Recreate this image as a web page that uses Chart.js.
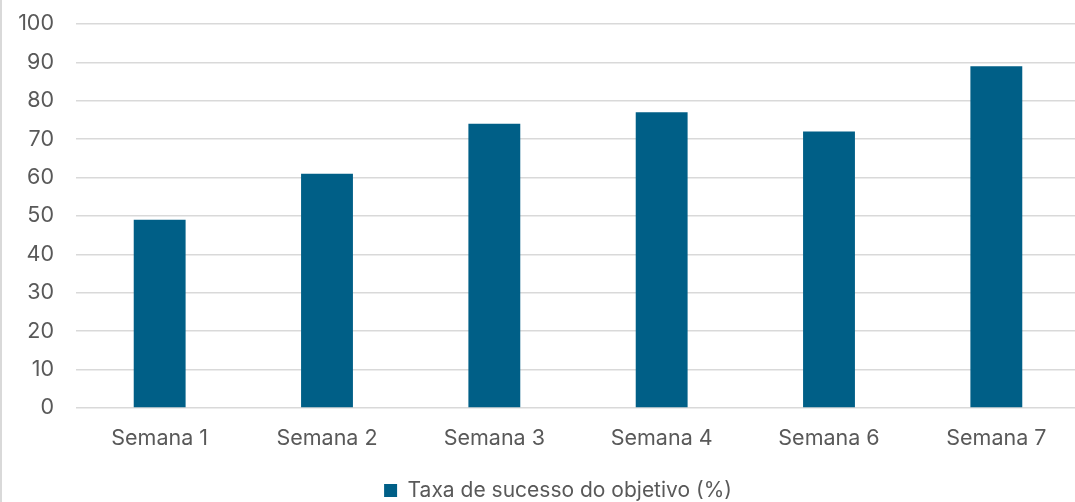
<!DOCTYPE html>
<html>
<head>
<meta charset="utf-8">
<script src="https://cdn.jsdelivr.net/npm/chart.js@4"></script>
<style>
  html, body { margin: 0; padding: 0; background: #fff; overflow: hidden; }
  #borda { position: absolute; left: 0; top: 0; width: 2px; height: 502px; background: #d9d9d9; }
  #wrap { position: absolute; left: 2px; top: -11px; width: 1078px; height: 522px; }
</style>
</head>
<body>
<div id="borda"></div>
<div id="wrap"><canvas id="grafico"></canvas></div>
<script>
const semanas = ["Semana 1", "Semana 2", "Semana 3", "Semana 4", "Semana 6", "Semana 7"];
const taxaSucesso = [49, 61, 74, 77, 72, 89];
const nomeSerie = "Taxa de sucesso do objetivo (%)";

const fonte = "Inter, 'Open Sans', sans-serif";

// mover a legenda um pouco para a direita, como no original
const deslocarLegenda = {
  id: "deslocarLegenda",
  afterLayout(chart) {
    chart.legend.left += 17;
    chart.legend.right += 17;
  },
};

const ctx = document.getElementById("grafico").getContext("2d");
const myChart = new Chart(ctx, {
  type: "bar",
  data: {
    labels: semanas,
    datasets: [
      {
        label: nomeSerie,
        data: taxaSucesso,
        backgroundColor: "#005f87",
        borderWidth: 0,
        barPercentage: 0.31,
        categoryPercentage: 1,
      },
    ],
  },
  options: {
    responsive: true,
    maintainAspectRatio: false,
    animation: false,
    layout: {
      padding: { top: 3, right: 0, bottom: 0, left: 0 },
    },
    plugins: {
      tooltip: { enabled: false },
      legend: {
        position: "bottom",
        labels: {
          boxWidth: 13,
          boxHeight: 13,
          padding: 2,
          color: "#595959",
          font: { family: fonte, size: 21 },
        },
      },
    },
    scales: {
      x: {
        grid: { display: false, drawTicks: false },
        border: { display: false },
        ticks: {
          color: "#595959",
          padding: 18,
          font: { family: fonte, size: 21.5 },
        },
        afterFit: (scale) => {
          scale.height = 70;
        },
      },
      y: {
        min: 0,
        max: 100,
        ticks: {
          stepSize: 10,
          color: "#595959",
          padding: 22,
          font: { family: fonte, size: 21.5 },
        },
        grid: { color: "#d9d9d9", lineWidth: 1.5, drawTicks: false },
        border: { display: false },
        afterFit: (scale) => {
          scale.width = 74;
        },
      },
    },
  },
  plugins: [deslocarLegenda],
});
</script>
</body>
</html>
